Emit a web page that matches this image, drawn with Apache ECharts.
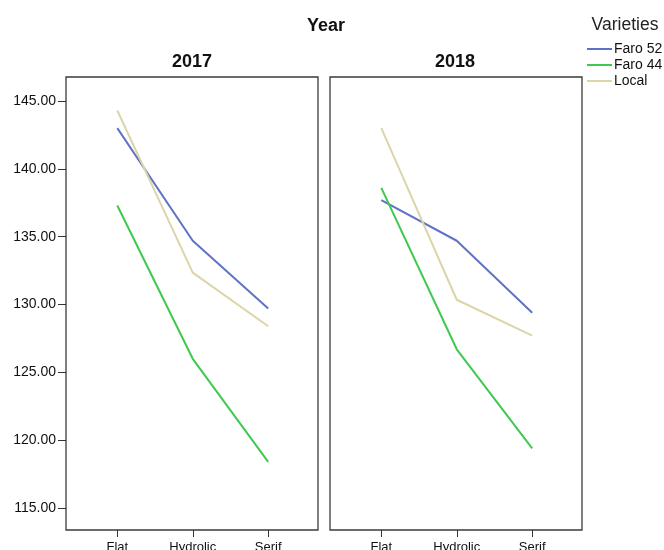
<!DOCTYPE html>
<html><head><meta charset="utf-8">
<script src="https://cdn.jsdelivr.net/npm/echarts@6/dist/echarts.min.js"></script>
<style>html,body{margin:0;padding:0;background:#fff}#c{width:664px;height:550px}</style>
</head><body><div id="c"></div>
<script>
const categories = ['Flat', 'Hydrolic', 'Serif'];
const years = ['2017', '2018'];
const varieties = ['Faro 52', 'Faro 44', 'Local'];
const faro52_2017 = [143.0, 134.7, 129.7];
const faro44_2017 = [137.3, 126.0, 118.4];
const local_2017 = [144.3, 132.35, 128.4];
const faro52_2018 = [137.7, 134.7, 129.4];
const faro44_2018 = [138.6, 126.7, 119.4];
const local_2018 = [143.0, 130.35, 127.7];
const yTicks = [115, 120, 125, 130, 135, 140, 145];
const colors = ['#5f73c4', '#3fc94f', '#dcd5a8'];

const font = 'Liberation Sans, Arial, sans-serif';
const chart = echarts.init(document.getElementById('c'));
const dataByYear = [[faro52_2017, faro44_2017, local_2017], [faro52_2018, faro44_2018, local_2018]];
const grids = [0, 1].map(i => ({
  left: i === 0 ? 66 : 330, top: 77, width: 252, height: 453,
  outerBoundsMode: 'none', containLabel: false,
  show: true, borderColor: '#3a3a3a', borderWidth: 1.3, backgroundColor: 'transparent'
}));
const xAxes = [0, 1].map(i => ({
  type: 'value', gridIndex: i, min: -0.68, max: 2.66, position: 'bottom',
  axisLine: { show: false, onZero: false }, splitLine: { show: false },
  axisTick: { show: true, customValues: [0, 1, 2], length: 7, lineStyle: { color: '#333' } },
  axisLabel: { show: true, customValues: [0, 1, 2], formatter: v => categories[Math.round(v)], color: '#111', fontSize: 13, fontFamily: font, margin: 11 }
}));
const yAxes = [0, 1].map(i => ({
  type: 'value', gridIndex: i, min: 113.38, max: 146.77, position: 'left',
  axisLine: { show: false, onZero: false }, splitLine: { show: false },
  axisTick: { show: i === 0, customValues: yTicks, length: 8, lineStyle: { color: '#333' } },
  axisLabel: { show: i === 0, customValues: yTicks, formatter: v => v.toFixed(2), color: '#111', fontSize: 14, fontFamily: font, margin: 10 }
}));
const series = [];
[0, 1].forEach(g => {
  varieties.forEach((name, k) => {
    series.push({
      type: 'line', name: name, xAxisIndex: g, yAxisIndex: g,
      data: dataByYear[g][k].map((v, j) => [j, v]),
      symbol: 'none', lineStyle: { width: 2, color: colors[k] }, itemStyle: { color: colors[k] },
      silent: true, animation: false
    });
  });
});
chart.setOption({
  animation: false,
  grid: grids, xAxis: xAxes, yAxis: yAxes, series: series,
  legend: {
    data: varieties.map(n => ({ name: n, icon: 'rect' })),
    orient: 'vertical', left: 582, top: 37, itemWidth: 25, itemHeight: 2, itemGap: 2,
    textStyle: { fontSize: 14, fontFamily: font, color: '#111', padding: [0, 0, 0, -3] }
  },
  graphic: [
    { type: 'text', style: { x: 326, y: 26, text: 'Year', textAlign: 'center', textVerticalAlign: 'middle', font: 'bold 18px ' + font, fill: '#111' } },
    { type: 'text', style: { x: 192, y: 62, text: years[0], textAlign: 'center', textVerticalAlign: 'middle', font: 'bold 18px ' + font, fill: '#111' } },
    { type: 'text', style: { x: 455, y: 62, text: years[1], textAlign: 'center', textVerticalAlign: 'middle', font: 'bold 18px ' + font, fill: '#111' } },
    { type: 'text', style: { x: 625, y: 25, text: 'Varieties', textAlign: 'center', textVerticalAlign: 'middle', font: '17.5px ' + font, fill: '#222' } }
  ]
});
</script></body></html>
